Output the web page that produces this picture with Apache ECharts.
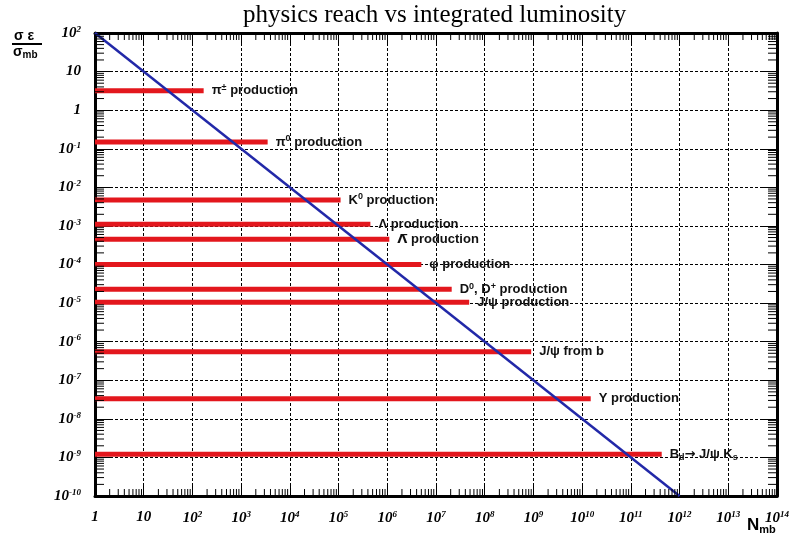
<!DOCTYPE html>
<html>
<head>
<meta charset="utf-8">
<script src="https://cdn.jsdelivr.net/npm/echarts@6/dist/echarts.min.js"></script>
<style>
  html, body { margin: 0; padding: 0; background: #fff; }
  #chart { width: 792px; height: 542px; }
</style>
</head>
<body>
<div id="chart"></div>
<script>
// processes: name (rich text), sigma*eps/sigma_mb, N_mb where the red bar ends
const processNames = [
  '\u03c0{s|\u00b1} production',
  '\u03c0{s|0} production',
  'K{s|0} production',
  '\u039b production',
  '{o|\u039b\u0305} production',
  '\u03c6 production',
  'D{s|0}, D{s|+} production',
  'J/\u03c8 production',
  'J/\u03c8 from b',
  '\u03a5 production',
  'B{b|d}{a|\u2192} J/\u03c8 K{b|s}'
]
const processYield = [3.2, 0.15, 4.7e-3, 1.1e-3, 4.5e-4, 1.0e-4, 2.3e-5, 1.05e-5, 5.5e-7, 3.3e-8, 1.2e-9]
const processReach = [170, 3.5e3, 1.1e5, 4.5e5, 1.1e6, 5e6, 2.1e7, 4.8e7, 9e8, 1.5e10, 4.3e11]

// blue reach line: sigma*eps/sigma_mb = 100 / N_mb
const reachLine = [[1, 100], [1e12, 1e-10]]

// axis ranges and tick labels (exponents of 10)
const X_MIN = 1
const X_MAX = 1e14
const Y_MIN = 1e-10
const Y_MAX = 1e2
const xTickExp = [0, 1, 2, 3, 4, 5, 6, 7, 8, 9, 10, 11, 12, 13, 14]
const yTickExp = [-10, -9, -8, -7, -6, -5, -4, -3, -2, -1, 0, 1, 2]

function powLabel(v) {
  const e = Math.round(Math.log10(v))
  if (e === 0) return '1'
  if (e === 1) return '10'
  return '10{sup|' + e + '}'
}

// minor ticks at 2..9 x 10^n (axis decoration)
const minorTicks = []
xTickExp.slice(0, -1).forEach(function(e) {
  for (let m = 2; m <= 9; m++) minorTicks.push([m * Math.pow(10, e), 1, 0])
})
yTickExp.slice(0, -1).forEach(function(e) {
  for (let m = 2; m <= 9; m++) minorTicks.push([1, m * Math.pow(10, e), 1])
})

const labelFont = {
  fontFamily: 'Liberation Serif',
  fontStyle: 'italic',
  fontWeight: 'bold',
  fontSize: 15,
  color: '#000',
  rich: {
    sup: {
      fontFamily: 'Liberation Serif',
      fontStyle: 'italic',
      fontWeight: 'bold',
      fontSize: 9,
      verticalAlign: 'top',
      padding: [0, 0, 7, 0],
      color: '#000'
    }
  }
}

const gridLine = { show: true, lineStyle: { color: '#000', type: [3, 2], width: 1 } }

const chart = echarts.init(document.getElementById('chart'))

const series = processNames.map(function(name, i) {
  return {
    type: 'line',
    data: [[X_MIN, processYield[i]], [processReach[i], processYield[i]]],
    symbol: 'none',
    lineStyle: { color: '#e3171d', width: 5 },
    z: 3,
    endLabel: {
      show: true,
      distance: 8,
      formatter: name,
      fontFamily: 'Liberation Sans',
      fontWeight: 'bold',
      fontSize: 13,
      color: '#111',
      rich: {
        s: { fontFamily: 'Liberation Sans', fontWeight: 'bold', fontSize: 9, verticalAlign: 'top', padding: [0, 0, 6, 0], color: '#111' },
        b: { fontFamily: 'Liberation Sans', fontWeight: 'bold', fontSize: 9, verticalAlign: 'bottom', padding: [7, 0, 0, 0], color: '#111' },
        o: { fontFamily: 'DejaVu Sans', fontWeight: 'bold', fontSize: 13, color: '#111' },
        a: { fontFamily: 'DejaVu Sans', fontWeight: 'bold', fontSize: 13, color: '#111' }
      }
    }
  }
})

series.push({
  type: 'line',
  data: reachLine,
  symbol: 'none',
  lineStyle: { color: '#2228a8', width: 2.5 },
  z: 4
})

series.push({
  type: 'custom',
  data: minorTicks,
  silent: true,
  clip: false,
  z: 5,
  renderItem: function(params, api) {
    const kind = api.value(2)
    const st = { stroke: '#000', lineWidth: 1 }
    if (kind === 0) {
      const a = api.coord([api.value(0), Y_MIN])
      const b = api.coord([api.value(0), Y_MAX])
      return { type: 'group', children: [
        { type: 'line', shape: { x1: a[0], y1: a[1], x2: a[0], y2: a[1] - 7 }, style: st },
        { type: 'line', shape: { x1: b[0], y1: b[1], x2: b[0], y2: b[1] + 7 }, style: st }
      ] }
    }
    const c = api.coord([X_MIN, api.value(1)])
    const d = api.coord([X_MAX, api.value(1)])
    return { type: 'group', children: [
      { type: 'line', shape: { x1: c[0], y1: c[1], x2: c[0] + 9, y2: c[1] }, style: st },
      { type: 'line', shape: { x1: d[0], y1: d[1], x2: d[0] - 9, y2: d[1] }, style: st }
    ] }
  }
})

chart.setOption({
  animation: false,
  backgroundColor: '#fff',
  title: {
    text: 'physics reach vs integrated luminosity',
    left: 238,
    top: -2,
    textStyle: { fontFamily: 'Liberation Serif', fontWeight: 'normal', fontSize: 25, color: '#000' }
  },
  grid: { left: 95, right: 14, top: 33, bottom: 46, containLabel: false },
  xAxis: [{
    type: 'log',
    min: X_MIN,
    max: X_MAX,
    interval: 1,
    axisLine: { show: true, lineStyle: { color: '#000', width: 3 } },
    axisTick: { show: true, inside: true, length: 13, lineStyle: { color: '#000', width: 1 } },
    axisLabel: Object.assign({ margin: 14, formatter: powLabel, showMaxLabel: true, showMinLabel: true }, labelFont),
    splitLine: gridLine
  }, {
    type: 'log',
    position: 'top',
    min: X_MIN,
    max: X_MAX,
    interval: 1,
    axisLine: { show: true, lineStyle: { color: '#000', width: 3 } },
    axisTick: { show: true, inside: true, length: 13, lineStyle: { color: '#000', width: 1 } },
    axisLabel: { show: false },
    splitLine: { show: false }
  }],
  yAxis: [{
    type: 'log',
    min: Y_MIN,
    max: Y_MAX,
    interval: 1,
    axisLine: { show: true, lineStyle: { color: '#000', width: 3 } },
    axisTick: { show: true, inside: true, length: 16, lineStyle: { color: '#000', width: 1 } },
    axisLabel: Object.assign({ margin: 14, formatter: powLabel, showMaxLabel: true, showMinLabel: true }, labelFont),
    splitLine: gridLine
  }, {
    type: 'log',
    position: 'right',
    min: Y_MIN,
    max: Y_MAX,
    interval: 1,
    axisLine: { show: true, lineStyle: { color: '#000', width: 3 } },
    axisTick: { show: true, inside: true, length: 16, lineStyle: { color: '#000', width: 1 } },
    axisLabel: { show: false },
    splitLine: { show: false }
  }],
  graphic: [
    {
      type: 'text', left: 14, top: 29,
      style: { text: '\u03c3 \u03b5', font: 'bold 14px "Liberation Sans"', fill: '#000' }
    },
    {
      type: 'line', shape: { x1: 12, y1: 44, x2: 42, y2: 44 },
      style: { stroke: '#000', lineWidth: 2 }
    },
    {
      type: 'text', left: 13, top: 45,
      style: {
        text: '\u03c3{s|mb}',
        font: 'bold 14px "Liberation Sans"', fill: '#000',
        rich: { s: { font: 'bold 10px "Liberation Sans"', fill: '#000', verticalAlign: 'bottom', padding: [6, 0, 0, 0] } }
      }
    },
    {
      type: 'text', left: 747, top: 517,
      style: {
        text: 'N{s|mb}',
        font: 'bold 17px "Liberation Sans"', fill: '#000',
        rich: { s: { font: 'bold 11px "Liberation Sans"', fill: '#000', verticalAlign: 'bottom', padding: [9, 0, 0, 0] } }
      }
    }
  ],
  series: series
})
</script>
</body>
</html>
